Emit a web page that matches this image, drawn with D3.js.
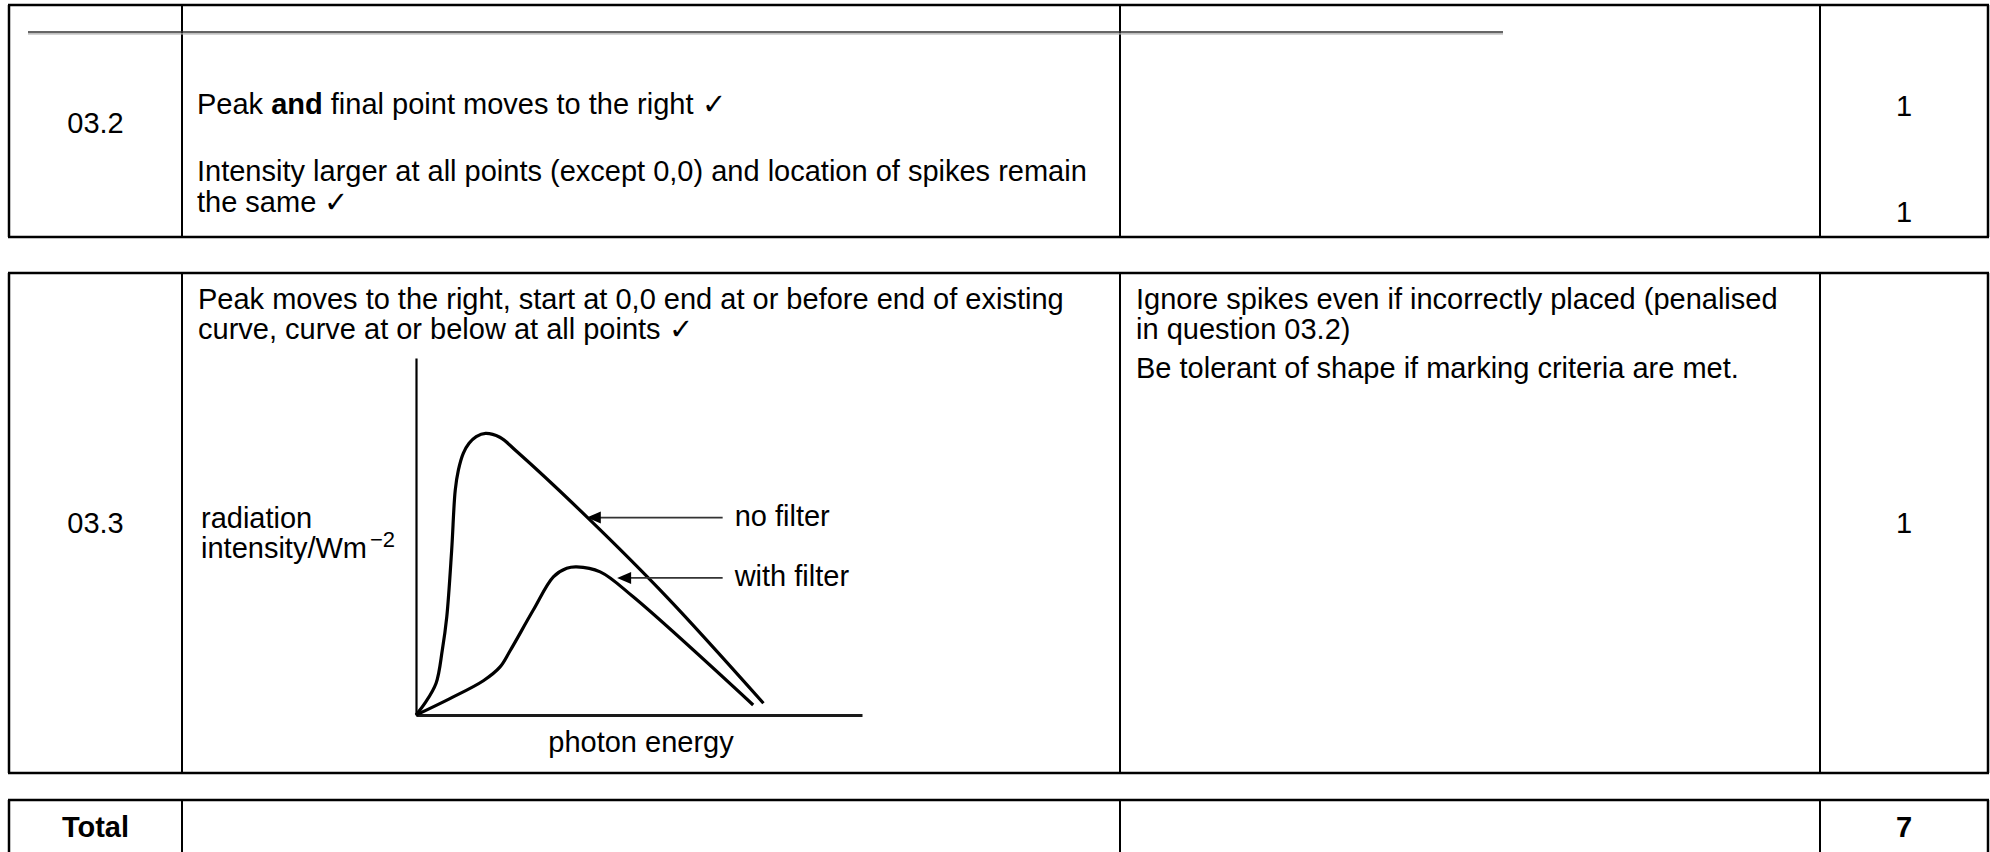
<!DOCTYPE html>
<html>
<head>
<meta charset="utf-8">
<script src="https://cdn.jsdelivr.net/npm/d3@7"></script>
<style>
	body { margin: 0; background: #fff; }
	text { font-family: "Liberation Sans", Arial, Helvetica, sans-serif; font-size: 29px; fill: #000; }
</style>
</head>
<body>
<script>
// Question numbers and marks for each row
const questionIds = ["03.2", "03.3"];
const rowMarks = [["1", "1"], ["1"]];
const totalLabel = "Total";
const totalMark = "7";

// Answer and guidance text
const answer032 = [
	["Peak ", "and", " final point moves to the right \u2713"],
	["Intensity larger at all points (except 0,0) and location of spikes remain"],
	["the same \u2713"]
];
const answer033 = [
	"Peak moves to the right, start at 0,0 end at or before end of existing",
	"curve, curve at or below at all points \u2713"
];
const guidance033 = [
	"Ignore spikes even if incorrectly placed (penalised",
	"in question 03.2)",
	"Be tolerant of shape if marking criteria are met."
];

// Sketch graph: [photon energy, intensity] in arbitrary units (0-100)
const noFilter = [
	[0, 0], [2.0, 3.3], [4.5, 8.9], [5.9, 18.2], [6.9, 27.5], [8.0, 46.2], [8.8, 63.0],
	[9.5, 68.6], [10.6, 73.3], [11.9, 76.1], [13.5, 78.0], [15.6, 78.9], [18.8, 77.8],
	[22.6, 73.8], [38.3, 55.5], [56.2, 33.1], [77.9, 3.3]
];
const withFilter = [
	[0, 0], [7.6, 4.6], [15.1, 9.6], [18.8, 13.4], [21.1, 18.0], [26.3, 29.4], [30.8, 38.7],
	[33.8, 41.1], [36.0, 41.5], [41.3, 40.1], [48.7, 33.1], [75.6, 2.8]
];
const curveLabels = ["no filter", "with filter"];
const arrowTips = [[38.3, 55.3], [45.1, 38.4]]; // where each arrow touches its curve
const labelX = 71; // arrow tails / labels start here (x units)
const yAxisLabel = ["radiation", "intensity/Wm", "\u22122"];
const xAxisLabel = "photon energy";

const w = 1990;
const h = 852;

const svg = d3.select("body").append("svg").attr("width", w).attr("height", h);

// ---- table frames ----
const colX = [9, 182, 1120, 1820, 1988];
const tables = [[5, 237], [273, 773], [800, 880]];

function line(x1, y1, x2, y2, width, color) {
	svg.append("line")
		.attr("x1", x1).attr("y1", y1)
		.attr("x2", x2).attr("y2", y2)
		.attr("stroke", color || "#000")
		.attr("stroke-width", width);
}

tables.forEach(([top, bottom]) => {
	line(colX[0] - 1, top, colX[4] + 1, top, 2.5);
	line(colX[0] - 1, bottom, colX[4] + 1, bottom, 2.5);
	colX.forEach((cx, i) => {
		const outer = i === 0 || i === colX.length - 1;
		line(cx, top, cx, bottom, outer ? 2.5 : 2);
	});
});

// leftover border of the row above
line(28, 32, 1503, 32, 1.6, "#333");
line(28, 33.8, 1503, 33.8, 1.2, "#aaa");

// ---- table text ----
function label(str, x, y, anchor, bold) {
	return svg.append("text")
		.attr("x", x).attr("y", y)
		.attr("text-anchor", anchor || "start")
		.attr("font-weight", bold ? "bold" : null)
		.text(str);
}

const colMid = (colX[0] + colX[1]) / 2;
const markMid = (colX[3] + colX[4]) / 2;

// row 03.2
label(questionIds[0], colMid, 133, "middle");
const first = svg.append("text").attr("x", 197).attr("y", 114);
answer032[0].forEach((part, i) => {
	first.append("tspan").attr("font-weight", i === 1 ? "bold" : null).text(part);
});
label(answer032[1][0], 197, 181);
label(answer032[2][0], 197, 212);
label(rowMarks[0][0], markMid, 116, "middle");
label(rowMarks[0][1], markMid, 222, "middle");

// row 03.3
answer033.forEach((t, i) => label(t, 198, 309 + i * 30));
[309, 339, 378].forEach((yy, i) => label(guidance033[i], 1136, yy));
label(questionIds[1], colMid, 533, "middle");
label(rowMarks[1][0], markMid, 533, "middle");

// total row
label(totalLabel, colMid, 837, "middle", true);
label(totalMark, markMid, 837, "middle", true);

// ---- sketch graph ----
const xScale = d3.scaleLinear().domain([0, 100]).range([416, 862]);
const yScale = d3.scaleLinear().domain([0, 100]).range([715, 358]);

svg.append("g")
	.attr("transform", `translate(0, ${yScale(0)})`)
	.call(d3.axisBottom(xScale).tickValues([]).tickSizeOuter(0))
	.select(".domain").attr("stroke", "#1a1a1a").attr("stroke-width", 3);

svg.append("g")
	.attr("transform", `translate(${xScale(0)}, 0)`)
	.call(d3.axisLeft(yScale).tickValues([]).tickSizeOuter(0))
	.select(".domain").attr("stroke", "#000").attr("stroke-width", 2.2);

const curve = d3.line()
	.x((d) => xScale(d[0]))
	.y((d) => yScale(d[1]))
	.curve(d3.curveCatmullRom.alpha(0.5));

[noFilter, withFilter].forEach((series) => {
	svg.append("path")
		.datum(series)
		.attr("d", curve)
		.attr("fill", "none")
		.attr("stroke", "#000")
		.attr("stroke-width", 3.2)
		.attr("stroke-linejoin", "round");
});

// arrows pointing at the curves
arrowTips.forEach((tip, i) => {
	const tx = xScale(tip[0]);
	const ty = yScale(tip[1]);
	line(tx + 10, ty, xScale(labelX) - 10, ty, 1.6, "#333");
	svg.append("path")
		.attr("d", `M${tx},${ty} L${tx + 14},${ty - 6} L${tx + 14},${ty + 6} Z`)
		.attr("fill", "#000");
	label(curveLabels[i], xScale(labelX) + 2, ty + 8);
});

// axis labels
label(yAxisLabel[0], 201, 528);
const yl = label(yAxisLabel[1], 201, 558);
yl.append("tspan").attr("font-size", "22px").attr("dx", 3).attr("dy", -11).text(yAxisLabel[2]);
label(xAxisLabel, 641, 752, "middle");
</script>
</body>
</html>
